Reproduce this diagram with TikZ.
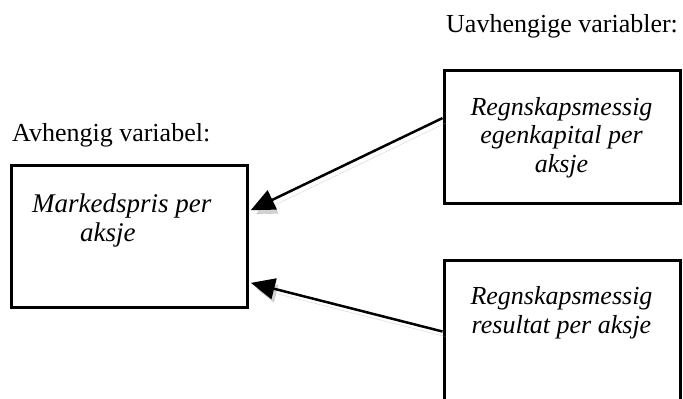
\documentclass[tikz,border=0pt]{standalone}
\usepackage{fontspec}
\setmainfont{Liberation Serif}
\usetikzlibrary{arrows.meta,positioning}

\begin{document}
\begin{tikzpicture}[x=1pt,y=-1pt,
  boks/.style={draw,line width=3pt,minimum width=236pt,minimum height=142pt,inner sep=0pt},
  tekst/.style={font=\fontsize{26}{29}\selectfont,inner sep=0pt,anchor=base west},
  kursiv/.style={tekst,font=\fontsize{26}{28.5}\selectfont\itshape},
  pil/.style={line width=2.5pt,-{Triangle[length=24pt,width=21pt]},shorten >=2pt,
    preaction={draw=black!35,opacity=.5,transform canvas={shift={(3pt,-5pt)}}}}]
\clip (0,0) rectangle (683,399);
% bokser
\node[boks] (avh) at (129.4,236.5) {};
\node[boks,minimum height=133.5pt] (uavh1) at (562,137) {};
\node[boks] (uavh2) at (562,331.5) {};
% overskrifter
\node[tekst] (avhtittel) at (12,141) {Avhengig variabel:};
\node[tekst] (uavhtittel) at (446,32) {Uavhengige variabler:};
% tekst i boksene
\node[kursiv,font=\fontsize{27}{29}\selectfont\itshape] (pris1) at (32,212) {Markedspris per};
\node[kursiv,font=\fontsize{27}{29}\selectfont\itshape] (pris2) at (80,241) {aksje};
\node[kursiv,anchor=base,align=center] (ek) at (561.5,172) {Regnskapsmessig\\egenkapital per\\aksje};
\node[kursiv,anchor=base,align=center] (res) at (561.5,333) {Regnskapsmessig\\resultat per aksje};
% piler
\draw[pil] (uavh1.171) -- (avh.12);
\draw[pil] (uavh2.west) -- (avh.-21);
\end{tikzpicture}
\end{document}
